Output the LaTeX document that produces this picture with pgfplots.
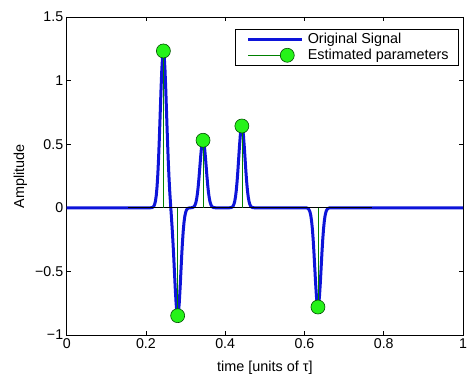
\documentclass[border=0pt]{standalone}
\usepackage{fontspec}
\setmainfont{Liberation Sans}
\usepackage{pgfplots}
\pgfplotsset{compat=1.18}
\definecolor{sigblue}{rgb}{0.05,0.08,0.85}
\definecolor{stemgreen}{rgb}{0,0.5,0}
\definecolor{markgreen}{rgb}{0.15,0.95,0.1}
\begin{document}
\begin{tikzpicture}
\begin{axis}[
  scale only axis, width=396.3bp, height=318bp,
  xmin=0, xmax=1, ymin=-1, ymax=1.5,
  xtick={0,0.2,0.4,0.6,0.8,1}, xticklabels={0,0.2,0.4,0.6,0.8,1},
  ytick={-1,-0.5,0,0.5,1,1.5}, yticklabels={−1,−0.5,0,0.5,1,1.5},
  tick pos=both, tick align=inside, major tick length=4bp,
  tick style={line width=0.6bp, black},
  axis line style={line width=0.8bp},
  ticklabel style={font=\fontsize{14.2bp}{16bp}\selectfont},
  label style={font=\fontsize{14.4bp}{16bp}\selectfont},
  xlabel={time [units of τ]}, ylabel={Amplitude},
  xlabel style={at={(axis description cs:0.5,0)}, anchor=base, yshift=-36bp},
  ylabel style={at={(axis description cs:-0.1077,0.5)}, anchor=base},
  legend cell align=left,
  legend style={at={(axis description cs:1,1)}, anchor=north east, xshift=-4bp, yshift=-12bp,
    inner xsep=8bp,
    draw=black, line width=0.8bp, font=\fontsize{14.4bp}{16bp}\selectfont},
]
\addplot[sigblue, line width=3bp, line join=round,
  legend image code/.code={\draw[sigblue, line width=3.2bp] (0bp,0bp) -- (54bp,0bp);
    \path (-3bp,0bp) (56bp,0bp);}]
 coordinates {
(0,0)
(0.210,0)(0.212,0.0004)(0.214,0.0011)(0.216,0.0027)(0.218,0.0063)(0.220,0.0137)(0.222,0.0281)
(0.224,0.0541)(0.226,0.0981)(0.228,0.1668)(0.230,0.2667)(0.232,0.4004)(0.234,0.5645)
(0.236,0.7478)(0.238,0.9307)(0.240,1.0881)(0.242,1.1950)(0.244,1.233)(0.246,1.1949)
(0.248,1.0878)(0.250,0.9299)(0.252,0.7459)(0.254,0.5602)(0.256,0.3910)(0.258,0.2474)
(0.260,0.1296)(0.262,0.0306)(0.264,-0.0606)(0.266,-0.1553)(0.268,-0.2616)(0.270,-0.3819)
(0.272,-0.5116)(0.274,-0.6390)(0.276,-0.7480)(0.278,-0.8218)(0.280,-0.848)(0.282,-0.8219)
(0.284,-0.7484)(0.286,-0.6401)(0.288,-0.5143)(0.290,-0.3882)(0.292,-0.2753)(0.294,-0.1834)
(0.296,-0.1147)(0.298,-0.0675)(0.300,-0.0372)(0.302,-0.0193)(0.304,-0.0094)(0.306,-0.0043)
(0.308,-0.0019)(0.310,-0.0008)(0.312,-0.0001)(0.314,0.0004)(0.316,0.0012)(0.318,0.0027)
(0.320,0.0059)(0.322,0.0121)(0.324,0.0233)(0.326,0.0423)(0.328,0.0718)(0.330,0.1149)
(0.332,0.1724)(0.334,0.2431)(0.336,0.3221)(0.338,0.4008)(0.340,0.4686)(0.342,0.5146)
(0.344,0.531)(0.346,0.5146)(0.348,0.4686)(0.350,0.4008)(0.352,0.3221)(0.354,0.2431)
(0.356,0.1724)(0.358,0.1149)(0.360,0.0718)(0.362,0.0423)(0.364,0.0233)(0.366,0.0121)
(0.368,0.0059)(0.370,0.0027)(0.372,0.0012)(0.374,0.0005)(0.376,0.0002)(0.378,0)
(0.408,0)(0.410,0.0002)(0.412,0.0006)(0.414,0.0014)(0.416,0.0033)(0.418,0.0071)
(0.420,0.0147)(0.422,0.0282)(0.424,0.0512)(0.426,0.0870)(0.428,0.1391)(0.430,0.2088)
(0.432,0.2944)(0.434,0.3900)(0.436,0.4853)(0.438,0.5674)(0.440,0.6232)(0.442,0.643)
(0.444,0.6232)(0.446,0.5674)(0.448,0.4853)(0.450,0.3900)(0.452,0.2944)(0.454,0.2088)
(0.456,0.1391)(0.458,0.0870)(0.460,0.0512)(0.462,0.0282)(0.464,0.0147)(0.466,0.0071)
(0.468,0.0033)(0.470,0.0014)(0.472,0.0006)(0.474,0.0002)(0.476,0)
(0.600,0)(0.602,-0.0002)(0.604,-0.0007)(0.606,-0.0017)(0.608,-0.0040)(0.610,-0.0087)
(0.612,-0.0178)(0.614,-0.0342)(0.616,-0.0621)(0.618,-0.1055)(0.620,-0.1687)(0.622,-0.2533)
(0.624,-0.3571)(0.626,-0.4731)(0.628,-0.5887)(0.630,-0.6884)(0.632,-0.7560)(0.634,-0.780)
(0.636,-0.7560)(0.638,-0.6884)(0.640,-0.5887)(0.642,-0.4731)(0.644,-0.3571)(0.646,-0.2533)
(0.648,-0.1687)(0.650,-0.1055)(0.652,-0.0621)(0.654,-0.0342)(0.656,-0.0178)(0.658,-0.0087)
(0.660,-0.0040)(0.662,-0.0017)(0.664,-0.0007)(0.666,-0.0002)(0.668,0)
(1,0)
};
\addlegendentry{Original Signal}
\addplot[black, line width=0.6bp, forget plot] coordinates {(0.155,0)(0.77,0)};
\addplot[ycomb, stemgreen, line width=0.6bp, mark=*, mark size=7bp,
  mark options={fill=markgreen, draw=stemgreen!60!black, line width=0.6bp},
  legend image code/.code={\draw[stemgreen, line width=0.6bp] (0bp,0bp) -- (39bp,0bp);
    \draw[fill=markgreen, draw=stemgreen!60!black, line width=0.6bp] (39bp,0bp) circle (7bp);
    \path (-3bp,0bp) (56bp,0bp);}]
 coordinates {(0.244,1.233)(0.280,-0.848)(0.344,0.531)(0.442,0.643)(0.634,-0.780)};
\addlegendentry{Estimated parameters}
\end{axis}
\pgfresetboundingbox
\path[use as bounding box] (current axis.south west) ++(-66.7bp,-44bp) rectangle ++(475bp,379bp);
\end{tikzpicture}
\end{document}
